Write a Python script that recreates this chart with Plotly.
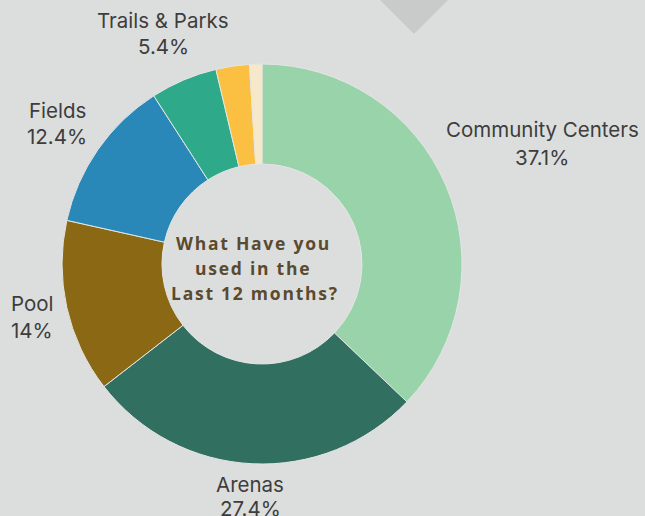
import plotly.graph_objects as go

# Share of respondents by facility used
categories = ["Community Centers", "Arenas", "Pool", "Fields", "Trails & Parks", "Other", "Not sure"]
shares = [37.1, 27.4, 14.0, 12.4, 5.4, 2.7, 1.0]
colors = ["#98d3a9", "#317061", "#8b6914", "#2a88b8", "#2ea98a", "#fbbf42", "#f6e8c9"]

# Outside label placement (pixel centres: x, name line y, value line y)
label_pos = {
    "Community Centers": (542, 129, 157),
    "Arenas": (250, 484, 508),
    "Pool": (32, 303, 330),
    "Fields": (57, 111, 136),
    "Trails & Parks": (163, 21, 47),
}
center_lines = ["What Have you", "used in the", "Last 12 months?"]

W, H = 645, 516
BG = "#dcdedd"
HAIR = "\u200a"  # extra tracking for the centre caption


def px(x):
    return x / W


def py(y):
    return 1 - y / H


def tracked(s):
    return HAIR.join(s)


cx, cy, r = 262, 264, 200

fig = go.Figure(
    go.Pie(
        labels=categories,
        values=shares,
        hole=0.5,
        sort=False,
        direction="clockwise",
        rotation=0,
        textinfo="none",
        marker=dict(colors=colors, line=dict(color="#e4e6e5", width=1)),
        domain=dict(x=[px(cx - r), px(cx + r)], y=[py(cy + r), py(cy - r)]),
        showlegend=False,
        hoverinfo="label+percent",
    )
)

annotations = []
for name, val in zip(categories, shares):
    if name not in label_pos:
        continue
    x, y1, y2 = label_pos[name]
    for text, y in ((name, y1), (f"{val:g}%", y2)):
        annotations.append(
            dict(
                x=px(x), y=py(y), xref="paper", yref="paper",
                text=text, showarrow=False, xanchor="center", yanchor="middle",
                font=dict(family="Inter, Roboto, sans-serif", size=20.5, color="#3d3d3d"),
            )
        )

for i, line in enumerate(center_lines):
    annotations.append(
        dict(
            x=px(252 if i < 2 else 254), y=py(243 + 25 * i), xref="paper", yref="paper",
            text=f"<b>{tracked(line)}</b>", showarrow=False, xanchor="center", yanchor="middle",
            font=dict(family="Open Sans, sans-serif", size=17.5, color="#5a4a2f"),
        )
    )

# Decorative diamond at the top edge
diamond = (
    f"M {px(414)},{py(-38)} L {px(450)},{py(-2)} "
    f"L {px(414)},{py(34)} L {px(378)},{py(-2)} Z"
)

fig.update_layout(
    width=W, height=H,
    margin=dict(l=0, r=0, t=0, b=0),
    paper_bgcolor=BG,
    plot_bgcolor=BG,
    annotations=annotations,
    shapes=[dict(type="path", path=diamond, xref="paper", yref="paper",
                 fillcolor="#c9caca", line=dict(width=0), layer="below")],
)

fig.write_html("out.html")
